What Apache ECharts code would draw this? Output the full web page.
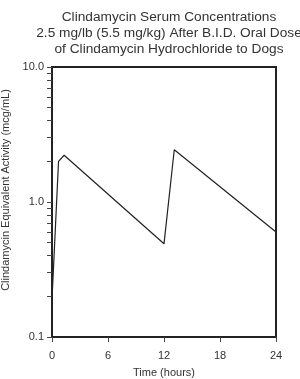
<!DOCTYPE html>
<html>
<head>
<meta charset="utf-8">
<script src="https://cdn.jsdelivr.net/npm/echarts@6/dist/echarts.min.js"></script>
<style>
  html, body { margin: 0; padding: 0; background: #fff; }
  #chart { width: 300px; height: 379px; }
</style>
</head>
<body>
<div id="chart"></div>
<script>
// data
let hours = [0, 0.7, 1.3, 12, 13.1, 24]
let conc = [0.19, 2.0, 2.22, 0.49, 2.44, 0.6]
let xTicks = [0, 6, 12, 18, 24]
let yLabels = [0.1, 1, 10]
let yTicks = [0.1, 0.2, 0.3, 0.4, 0.5, 0.6, 0.7, 0.8, 0.9, 1, 2, 3, 4, 5, 6, 7, 8, 9, 10]

let font = 'Liberation Sans, Arial, sans-serif'
let chart = echarts.init(document.getElementById('chart'));
let option = {
    animation: false,
    title: {
        text: 'Clindamycin Serum Concentrations\n2.5 mg/lb (5.5 mg/kg) After B.I.D. Oral Dose\nof Clindamycin Hydrochloride to Dogs',
        left: 164,
        top: 4,
        textAlign: 'center',
        textStyle: {
            fontFamily: font,
            fontSize: 13.7,
            fontWeight: 'normal',
            color: '#333',
            lineHeight: 16
        }
    },
    grid: {
        left: 52,
        right: 24,
        top: 67,
        bottom: 42,
        outerBoundsMode: 'none',
        containLabel: false,
        show: true,
        borderColor: '#222',
        borderWidth: 2
    },
    xAxis: {
        type: 'value',
        min: 0,
        max: 24,
        interval: 6,
        name: 'Time (hours)',
        nameLocation: 'middle',
        nameGap: 30,
        nameTextStyle: { fontFamily: font, fontSize: 11, color: '#333' },
        axisLine: { lineStyle: { color: '#222', width: 2 } },
        axisTick: { show: true, length: 5, lineStyle: { color: '#444', width: 1 } },
        axisLabel: {
            fontFamily: font, fontSize: 11, color: '#333', margin: 13,
            formatter: v => xTicks.indexOf(v) >= 0 ? String(v) : ''
        },
        splitLine: { show: false }
    },
    yAxis: {
        type: 'log',
        logBase: 10,
        min: 0.1,
        max: 10,
        name: 'Clindamycin Equivalent Activity (mcg/mL)',
        nameLocation: 'middle',
        nameGap: 34,
        nameTextStyle: { fontFamily: font, fontSize: 11, color: '#333', padding: [0, 0, 0, 24] },
        axisLine: { show: true, lineStyle: { color: '#222', width: 2 } },
        axisTick: { show: true, length: 5, customValues: yTicks, lineStyle: { color: '#444', width: 1 } },
        axisLabel: {
            fontFamily: font, fontSize: 11, color: '#333', margin: 8,
            customValues: yLabels,
            formatter: v => v.toFixed(1)
        },
        splitLine: { show: false }
    },
    series: [{
        type: 'line',
        data: hours.map((h, i) => [h, conc[i]]),
        symbol: 'none',
        lineStyle: { color: '#222', width: 1.2 },
        z: 3
    }]
};
chart.setOption(option);
</script>
</body>
</html>
